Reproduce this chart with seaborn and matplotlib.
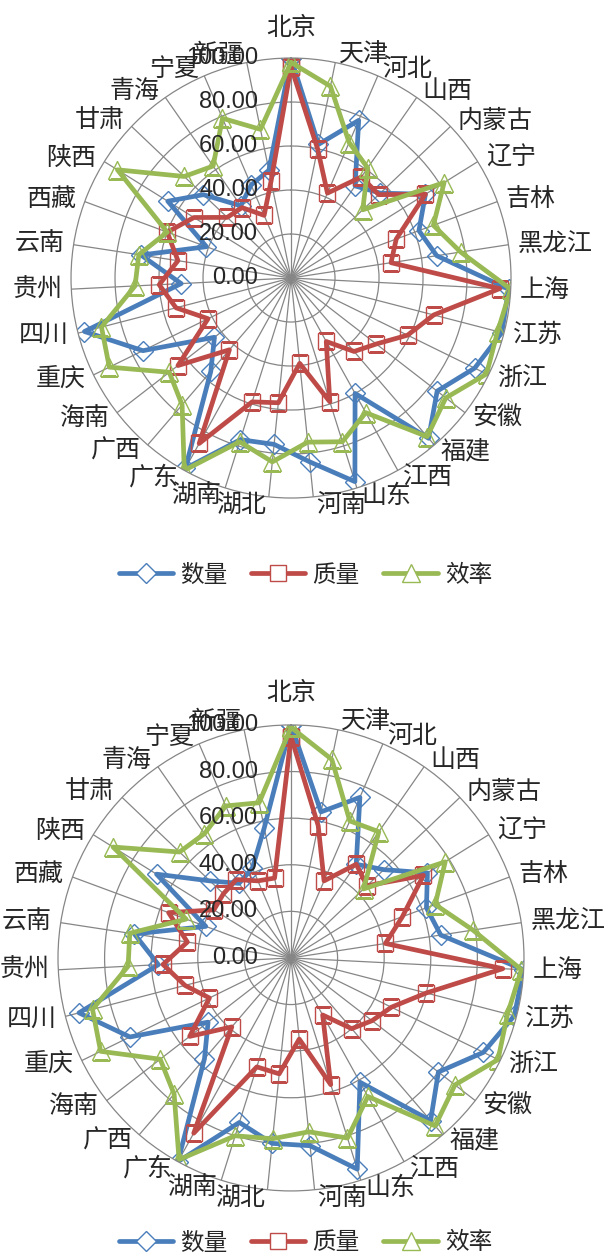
import numpy as np
import pandas as pd
import matplotlib
matplotlib.use("Agg")
import matplotlib.pyplot as plt
from matplotlib.lines import Line2D
import seaborn as sns

sns.set_style("white")
plt.rcParams["font.family"] = ["Noto Sans CJK SC", "DejaVu Sans"]

provinces = ["北京", "天津", "河北", "山西", "内蒙古", "辽宁", "吉林", "黑龙江", "上海", "江苏",
             "浙江", "安徽", "福建", "江西", "山东", "河南", "湖北", "湖南", "广东", "广西",
             "海南", "重庆", "四川", "贵州", "云南", "西藏", "陕西", "甘肃", "青海", "宁夏", "新疆"]
series_names = ["数量", "质量", "效率"]
rings = [0, 20, 40, 60, 80, 100]
ring_labels = ["0.00", "20.00", "40.00", "60.00", "80.00", "100.00"]

# upper chart
qty_a = [100, 62, 78, 51, 56, 72, 62, 67, 99, 99, 93, 84, 96, 60, 97, 84,
         76, 77, 99, 56, 44, 75, 97, 50, 69, 41, 66, 55, 40, 46, 50]
qual_a = [96, 60, 42, 56, 55, 72, 51, 46, 95, 67, 59, 49, 44, 33, 59, 39,
          57, 59, 86, 43, 65, 42, 54, 60, 52, 60, 52, 40, 39, 31, 45]
eff_a = [98, 89, 67, 61, 45, 82, 69, 78, 100, 97, 99, 89, 95, 70, 78, 75,
         84, 78, 100, 76, 70, 92, 89, 71, 70, 60, 93, 67, 62, 79, 69]

# lower chart
qty_b = [100, 64, 75, 49, 55, 69, 62, 65, 100, 99, 92, 80, 92, 61, 95, 81,
         80, 74, 100, 57, 45, 77, 94, 57, 68, 39, 68, 48, 39, 42, 57]
qual_b = [95, 58, 36, 49, 45, 67, 51, 41, 91, 60, 48, 44, 40, 28, 57, 35,
          50, 49, 86, 39, 55, 39, 47, 55, 45, 56, 39, 40, 41, 36, 35]
eff_b = [99, 87, 64, 66, 43, 78, 66, 79, 99, 96, 99, 89, 95, 68, 81, 75,
         78, 80, 99, 77, 71, 91, 88, 70, 70, 48, 90, 66, 65, 71, 68]

colors = ["#4A7EBB", "#BE4B48", "#98B954"]
markers = ["D", "s", "^"]
msizes = [10, 12, 13]
grid_c = "#868686"

n = len(provinces)
theta = np.arange(n) * 2 * np.pi / n
theta_closed = np.append(theta, 2 * np.pi)


def radar(rect, data, label_gap):
    ax = fig.add_axes(rect, projection="polar")
    ax.set_theta_zero_location("N")
    ax.set_theta_direction(-1)
    ax.set_ylim(0, 100)
    ax.set_xticks(theta)
    ax.set_xticklabels([])
    ax.set_yticks([20, 40, 60, 80])
    ax.set_yticklabels([])
    ax.grid(True, color=grid_c, lw=0.9)
    ax.spines["polar"].set_color(grid_c)
    ax.spines["polar"].set_linewidth(0.9)

    for vals, c, m, ms in zip(data, colors, markers, msizes):
        df = pd.DataFrame({"theta": theta_closed, "value": np.append(vals, vals[0])})
        sns.lineplot(data=df, x="theta", y="value", ax=ax, sort=False, color=c, lw=3.4,
                     marker=m, markersize=ms, markerfacecolor="none",
                     markeredgecolor=c, markeredgewidth=1.0, legend=False)
    ax.set_xlabel("")
    ax.set_ylabel("")

    # radial value labels along the top spoke
    for v, t in zip(rings, ring_labels):
        ax.annotate(t, xy=(0, v), xytext=(-33, 0), textcoords="offset pixels",
                    ha="right", va="center", fontsize=17, family="Liberation Sans",
                    annotation_clip=False)

    # category labels
    for th, name in zip(theta, provinces):
        s, c = np.sin(th), np.cos(th)
        if abs(s) < 0.05:
            ax.annotate(name, xy=(th, 100), xytext=(0, label_gap), textcoords="offset pixels",
                        ha="center", va="center", fontsize=18, annotation_clip=False)
        else:
            dx = np.sign(s) * (2 + 7 * abs(s))
            dy = 8 * c
            ax.annotate(name, xy=(th, 100), xytext=(dx, dy), textcoords="offset pixels",
                        ha="left" if s > 0 else "right", va="center", fontsize=18,
                        annotation_clip=False)
    return ax


fig = plt.figure(figsize=(6.11, 12.56), dpi=100)

radar([0.1162, 0.6035, 0.7202, 0.3503], [qty_a, qual_a, eff_a], 30)
radar([0.0949, 0.0518, 0.7627, 0.3710], [qty_b, qual_b, eff_b], 32)

handles = [Line2D([0], [0], color=c, lw=3.4, marker=m, markersize=ms, markerfacecolor="white",
                  markeredgecolor=c, markeredgewidth=1.0)
           for c, m, ms in zip(colors, markers, msizes)]
for y in [0.542, 0.0104]:
    fig.legend(handles, series_names, loc="center", bbox_to_anchor=(0.5, y), ncol=3,
               frameon=False, fontsize=17, handlelength=2.3, handletextpad=0.3,
               columnspacing=1.0)

fig.savefig("out.png", dpi=100)
